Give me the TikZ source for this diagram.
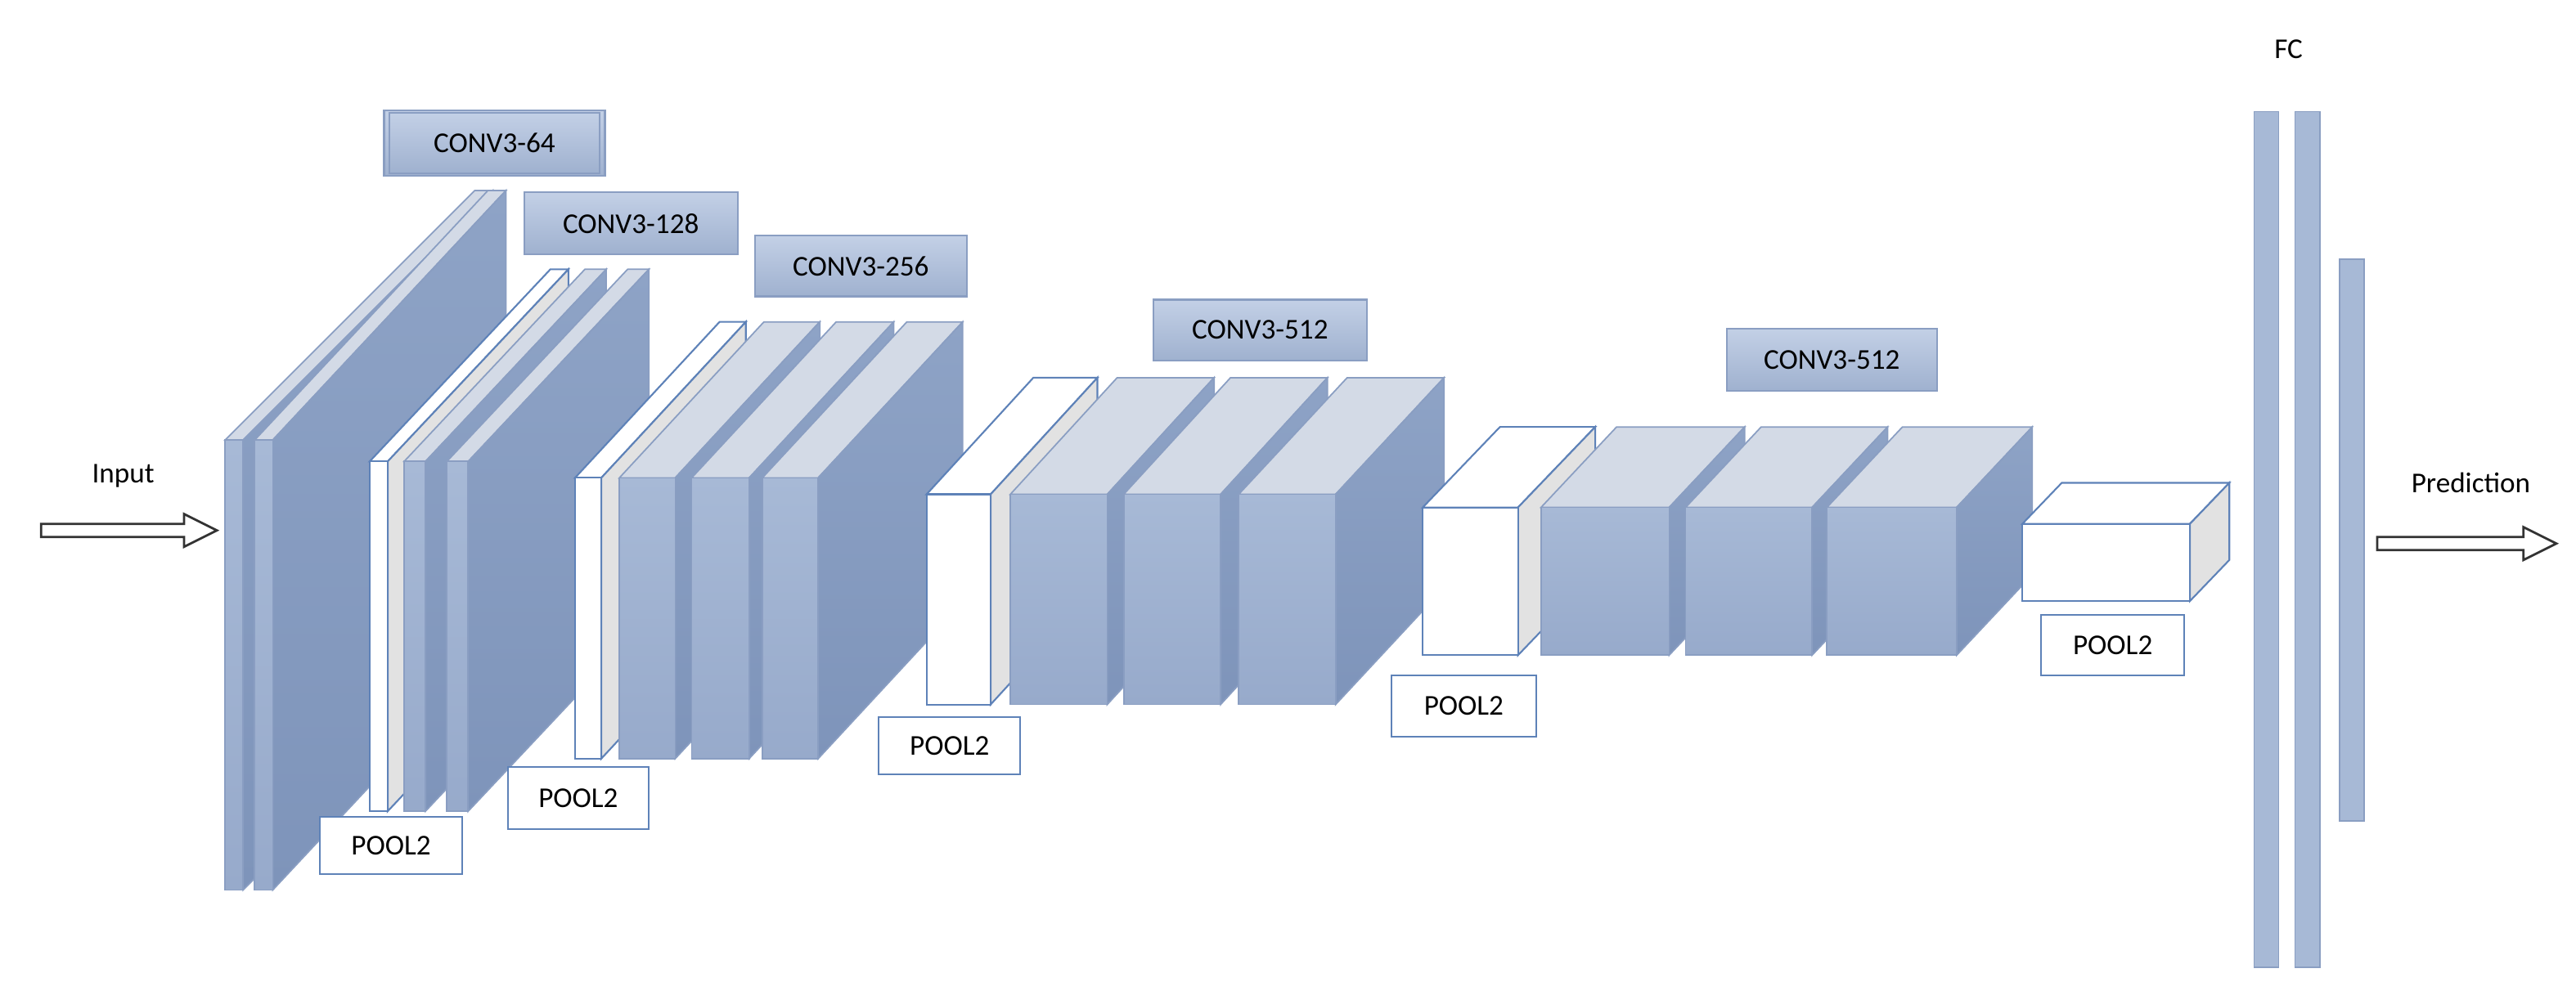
\documentclass[tikz,border=0pt]{standalone}
\usepackage{fontspec}
\setmainfont{Carlito}
\begin{document}
\definecolor{fr}{HTML}{A7B9D6}
\definecolor{frb}{HTML}{97AACB}
\definecolor{tp}{HTML}{D3DAE6}
\definecolor{sd}{HTML}{8EA3C6}
\definecolor{sdb}{HTML}{7E94BA}
\definecolor{edge}{HTML}{8A9EC2}
\definecolor{pedge}{HTML}{5E82B8}
\definecolor{lgrey}{HTML}{E2E2E2}
\begin{tikzpicture}[x=0.02008cm,y=-0.02008cm,
  lab/.style={draw=edge,line width=0.6pt,top color=lgt,bottom color=dkl,minimum height=38\pgflinewidth,inner sep=0pt,font=\fontsize{10}{12}\selectfont},
  plab/.style={draw=pedge,line width=0.6pt,fill=white,inner sep=0pt,font=\fontsize{10}{12}\selectfont},
  txt/.style={inner sep=0pt,font=\fontsize{10}{12}\selectfont},
  hollow/.style={draw=black!80,line width=0.8pt,fill=white}]
\definecolor{lgt}{HTML}{C3D0E6}
\definecolor{dkl}{HTML}{9FB1CF}
\useasboundingbox (0,0) rectangle (1568,608.5);
% cuboid: #1 x1, #2 x2, #3 y1(top), #4 y2(bottom), #5 dx, #6 dy, #7 pool(1)/conv(0)
\newcommand{\cub}[7]{%
  \ifnum#7=1
    \filldraw[draw=pedge,line width=0.6pt,fill=white] (#1,#3) -- (#2,#3) -- (#2+#5,#3-#6) -- (#1+#5,#3-#6) -- cycle;
    \filldraw[draw=pedge,line width=0.6pt,fill=lgrey] (#2,#3) -- (#2+#5,#3-#6) -- (#2+#5,#4-#6) -- (#2,#4) -- cycle;
    \filldraw[draw=pedge,line width=0.6pt,fill=white] (#1,#3) rectangle (#2,#4);
  \else
    \filldraw[draw=edge,line width=0.5pt,fill=tp] (#1,#3) -- (#2,#3) -- (#2+#5,#3-#6) -- (#1+#5,#3-#6) -- cycle;
    \filldraw[draw=edge,line width=0.5pt,top color=sd,bottom color=sdb] (#2,#3) -- (#2+#5,#3-#6) -- (#2+#5,#4-#6) -- (#2,#4) -- cycle;
    \filldraw[draw=edge,line width=0.5pt,top color=fr,bottom color=frb] (#1,#3) rectangle (#2,#4);
  \fi}
% input arrow
\node[txt] (in) at (75,290) {Input};
\filldraw[hollow] (25,319) -- (112,319) -- (112,313) -- (132,323) -- (112,333) -- (112,327) -- (25,327) -- cycle;
% block 1
\cub{137}{148}{268}{542}{152}{152}{0}
\cub{155}{166}{268}{542}{142}{152}{0}
\node[lab,minimum width=128\pgflinewidth] (c1) at (301,87) {};
\node[lab,minimum width=128*0.02008cm,minimum height=37*0.02008cm] (c1b) at (301,87) {CONV3-64};
% block 2
\cub{225}{236}{281}{494}{110}{117}{1}
\cub{246}{259}{281}{494}{110}{117}{0}
\cub{272}{285}{281}{494}{110}{117}{0}
\node[plab,minimum width=87*0.02008cm,minimum height=35*0.02008cm] (p1) at (238,515) {POOL2};
\node[lab,minimum width=130*0.02008cm,minimum height=38*0.02008cm] (c2) at (384,136) {CONV3-128};
% block 3
\cub{350}{366}{291}{462}{88}{95}{1}
\cub{377}{411}{291}{462}{88}{95}{0}
\cub{421}{456}{291}{462}{88}{95}{0}
\cub{464}{498}{291}{462}{88}{95}{0}
\node[plab,minimum width=86*0.02008cm,minimum height=38*0.02008cm] (p2) at (352,486) {POOL2};
\node[lab,minimum width=129*0.02008cm,minimum height=37*0.02008cm] (c3) at (524,162) {CONV3-256};
% block 4
\cub{564}{603}{301}{429}{65}{71}{1}
\cub{615}{674}{301}{429}{65}{71}{0}
\cub{684}{743}{301}{429}{65}{71}{0}
\cub{754}{813}{301}{429}{66}{71}{0}
\node[plab,minimum width=86*0.02008cm,minimum height=35*0.02008cm] (p3) at (578,454) {POOL2};
\node[lab,minimum width=130*0.02008cm,minimum height=37*0.02008cm] (c4) at (767,201) {CONV3-512};
% block 5
\cub{866}{924}{309}{399}{47}{49}{1}
\cub{938}{1016}{309}{399}{46}{49}{0}
\cub{1026}{1103}{309}{399}{46}{49}{0}
\cub{1112}{1191}{309}{399}{46}{49}{0}
\node[plab,minimum width=88*0.02008cm,minimum height=37*0.02008cm] (p4) at (891,430) {POOL2};
\node[lab,minimum width=128*0.02008cm,minimum height=38*0.02008cm] (c5) at (1115,219) {CONV3-512};
% last pool
\cub{1231}{1333}{319}{366}{24}{25}{1}
\node[plab,minimum width=87*0.02008cm,minimum height=37*0.02008cm] (p5) at (1286,393) {POOL2};
% FC
\node[txt] (fc) at (1393,30) {FC};
\filldraw[draw=edge,line width=0.5pt,fill=fr] (1372,68) rectangle (1387,589);
\filldraw[draw=edge,line width=0.5pt,fill=fr] (1397,68) rectangle (1412,589);
\filldraw[draw=edge,line width=0.5pt,fill=fr] (1424,158) rectangle (1439,500);
% prediction
\node[txt] (pr) at (1504,294) {Prediction};
\filldraw[hollow] (1447,327) -- (1536,327) -- (1536,321) -- (1556,331) -- (1536,341) -- (1536,335) -- (1447,335) -- cycle;
\end{tikzpicture}
\end{document}
